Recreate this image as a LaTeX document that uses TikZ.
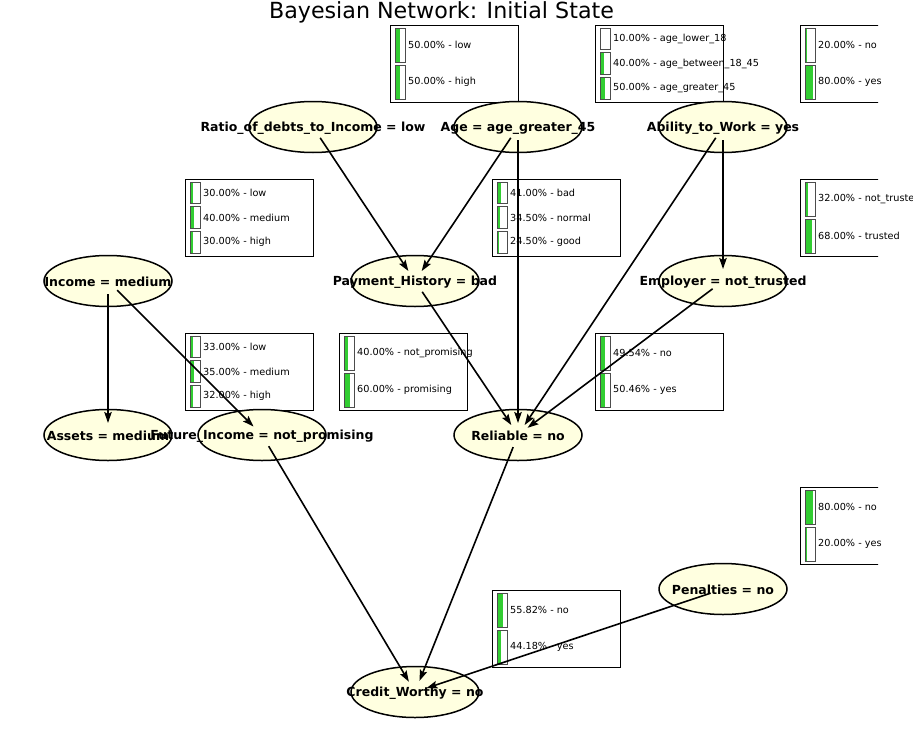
\documentclass[tikz,border=0pt]{standalone}
\usepackage{fontspec}
\setmainfont{DejaVu Sans}
\usepackage{xcolor}
\usepackage{tikz}
\usetikzlibrary{shapes.geometric, arrows.meta, backgrounds}
\definecolor{nodefill}{HTML}{FFFFE0}
\definecolor{barfill}{HTML}{32CD32}

\tikzset{
  bnnode/.style={ellipse, draw=black, line width=1.5pt, fill=nodefill, minimum width=128pt, minimum height=51pt, inner sep=0pt},
  bnlabel/.style={font=\fontsize{12.5}{14}\selectfont\bfseries, inner sep=0pt, yshift=-1pt},
  bnedge/.style={-{Stealth[length=11pt, width=7.5pt, inset=2pt]}, line width=1.6pt, shorten <=13pt, shorten >=12pt},
  tablebox/.style={draw=black, line width=1pt, fill=white},
  barbox/.style={draw=black!70, line width=0.8pt},
  bartext/.style={anchor=west, inner sep=0pt, font=\fontsize{9.7}{11}\selectfont}
}

% #1 node, #2 number of rows, #3 list of percent/value
\newcommand{\probtable}[3]{%
  \begin{scope}
    \clip (0,0) rectangle (878,736);
    \draw[tablebox] ([shift={(77,-102)}]#1.center) rectangle ([shift={(205,-25)}]#1.center);
  \end{scope}
  \begin{scope}[shift={(#1.center)}]
    \pgfmathsetmacro{\rowh}{(71-3*(#2-1))/#2}
    \foreach \pct/\val [count=\i from 0] in {#3} {
      \pgfmathsetmacro{\rowtop}{-99+\i*(\rowh+3)}
      \fill[barfill] (82,\rowtop) rectangle ++(\pct/10,\rowh);
      \draw[barbox] (82,\rowtop) rectangle ++(10,\rowh);
      \node[bartext] (#1-row\i) at (95,\rowtop+\rowh/2) {\pct\% - \val};
    }
  \end{scope}}

\begin{document}
\begin{tikzpicture}[x=1pt, y=-1pt]
  \useasboundingbox (0,0) rectangle (913,736);

  \node[font=\fontsize{22.2}{26}\selectfont, anchor=base] (title) at (441.5,18) {Bayesian Network: Initial State};

  \node[bnnode, label={[bnlabel, name=ratio-lbl]center:{Ratio\_of\_debts\_to\_Income = low}}] (ratio) at (313,127) {};
  \node[bnnode, label={[bnlabel, name=age-lbl]center:{Age = age\_greater\_45}}] (age) at (518,127) {};
  \node[bnnode, label={[bnlabel, name=ability-lbl]center:{Ability\_to\_Work = yes}}] (ability) at (723,127) {};
  \node[bnnode, label={[bnlabel, name=income-lbl]center:{Income = medium}}] (income) at (108,281) {};
  \node[bnnode, label={[bnlabel, name=payhist-lbl]center:{Payment\_History = bad}}] (payhist) at (415,281) {};
  \node[bnnode, label={[bnlabel, name=employer-lbl]center:{Employer = not\_trusted}}] (employer) at (723,281) {};
  \node[bnnode, label={[bnlabel, name=assets-lbl]center:{Assets = medium}}] (assets) at (108,435) {};
  \node[bnnode, label={[bnlabel, name=future-lbl]center:{Future\_Income = not\_promising}}] (future) at (262,435) {};
  \node[bnnode, label={[bnlabel, name=reliable-lbl]center:{Reliable = no}}] (reliable) at (518,435) {};
  \node[bnnode, label={[bnlabel, name=penalties-lbl]center:{Penalties = no}}] (penalties) at (723,589) {};
  \node[bnnode, label={[bnlabel, name=credit-lbl]center:{Credit\_Worthy = no}}] (credit) at (415,692) {};

  \begin{pgfonlayer}{background}
    \probtable{ratio}{2}{50.00/low, 50.00/high}
    \probtable{age}{3}{10.00/age\_lower\_18, 40.00/age\_between\_18\_45, 50.00/age\_greater\_45}
    \probtable{ability}{2}{20.00/no, 80.00/yes}
    \probtable{income}{3}{30.00/low, 40.00/medium, 30.00/high}
    \probtable{payhist}{3}{41.00/bad, 34.50/normal, 24.50/good}
    \probtable{employer}{2}{32.00/not\_trusted, 68.00/trusted}
    \probtable{assets}{3}{33.00/low, 35.00/medium, 32.00/high}
    \probtable{future}{2}{40.00/not\_promising, 60.00/promising}
    \probtable{reliable}{2}{49.54/no, 50.46/yes}
    \probtable{penalties}{2}{80.00/no, 20.00/yes}
    \probtable{credit}{2}{55.82/no, 44.18/yes}
  \end{pgfonlayer}

  \draw[bnedge] (ratio.center) -- (payhist.center);
  \draw[bnedge] (age.center) -- (payhist.center);
  \draw[bnedge] (age.center) -- (reliable.center);
  \draw[bnedge] (ability.center) -- (reliable.center);
  \draw[bnedge] (ability.center) -- (employer.center);
  \draw[bnedge] (income.center) -- (assets.center);
  \draw[bnedge] (income.center) -- (future.center);
  \draw[bnedge] (payhist.center) -- (reliable.center);
  \draw[bnedge] (employer.center) -- (reliable.center);
  \draw[bnedge] (future.center) -- (credit.center);
  \draw[bnedge] (reliable.center) -- (credit.center);
  \draw[bnedge] (penalties.center) -- (credit.center);
\end{tikzpicture}
\end{document}
